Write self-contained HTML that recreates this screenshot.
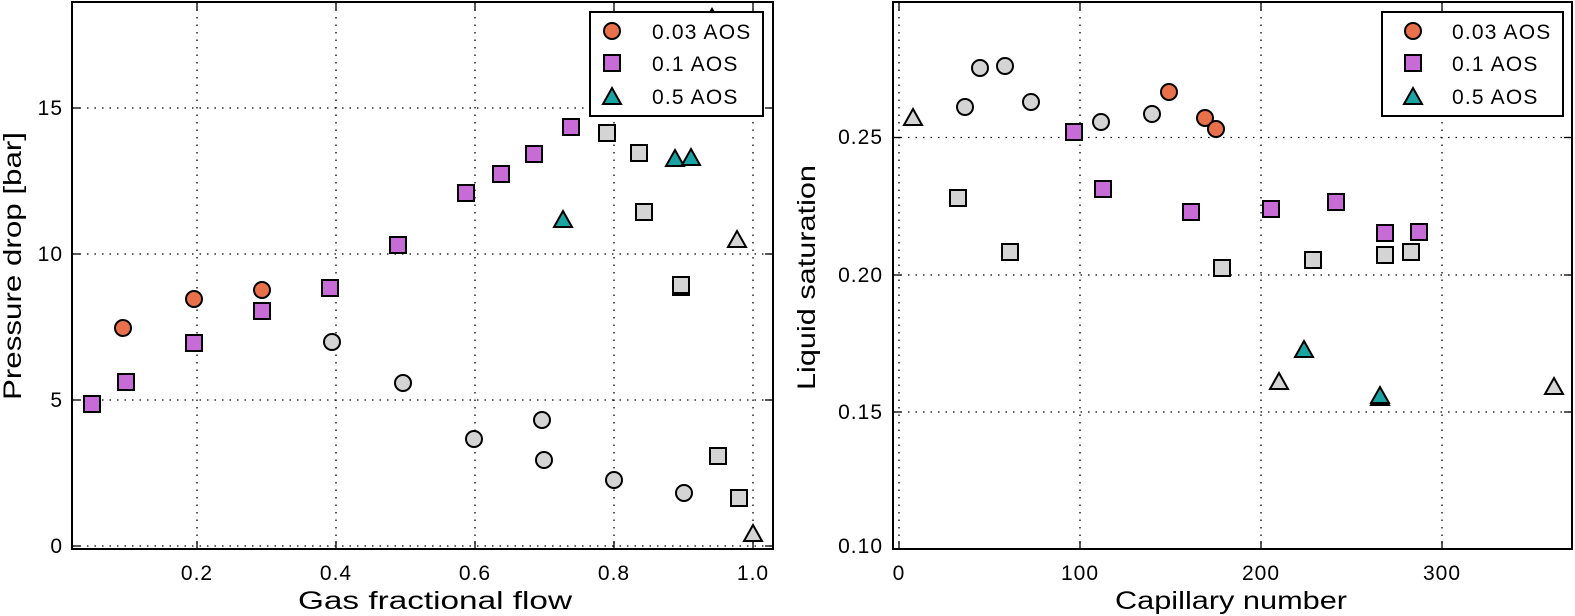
<!DOCTYPE html>
<html><head><meta charset="utf-8"><style>
html,body{margin:0;padding:0;background:#fff;}
svg{display:block;font-family:"Liberation Sans",sans-serif;}
.g{stroke:#000;stroke-width:1.3;stroke-dasharray:1.5,6;fill:none}
.t{font-size:21px;fill:#000;letter-spacing:1px}
.l{font-size:21px;fill:#000;letter-spacing:1.2px}
.a{font-size:25px;fill:#000}
.o{fill:#e8704a;stroke:#000;stroke-width:2}
.p{fill:#c76cd6;stroke:#000;stroke-width:2}
.c{fill:#1aa3a3;stroke:#000;stroke-width:2}
.y{fill:#d4d4d4;stroke:#000;stroke-width:2}
</style></head><body>
<svg width="1575" height="616" viewBox="0 0 1575 616">
<defs>
<circle id="ci" r="8"/>
<rect id="sq" x="-8" y="-8" width="16" height="16"/>
<polygon id="tr" points="0,-9 9,7 -9,7"/>
</defs>
<g>
<line class="g" x1="197" y1="2" x2="197" y2="549"/>
<line class="g" x1="336" y1="2" x2="336" y2="549"/>
<line class="g" x1="475" y1="2" x2="475" y2="549"/>
<line class="g" x1="614" y1="2" x2="614" y2="549"/>
<line class="g" x1="753" y1="2" x2="753" y2="549"/>
<line class="g" x1="72" y1="546" x2="773" y2="546"/>
<line class="g" x1="72" y1="400" x2="773" y2="400"/>
<line class="g" x1="72" y1="254" x2="773" y2="254"/>
<line class="g" x1="72" y1="108" x2="773" y2="108"/>
<g stroke="#000" stroke-width="1.3">
<line x1="197" y1="549" x2="197" y2="541"/><line x1="336" y1="549" x2="336" y2="541"/><line x1="475" y1="549" x2="475" y2="541"/><line x1="614" y1="549" x2="614" y2="541"/><line x1="753" y1="549" x2="753" y2="541"/>
<line x1="197" y1="2" x2="197" y2="10"/><line x1="336" y1="2" x2="336" y2="10"/><line x1="475" y1="2" x2="475" y2="10"/><line x1="614" y1="2" x2="614" y2="10"/><line x1="753" y1="2" x2="753" y2="10"/>
<line x1="72" y1="546" x2="80" y2="546"/><line x1="72" y1="400" x2="80" y2="400"/><line x1="72" y1="254" x2="80" y2="254"/><line x1="72" y1="108" x2="80" y2="108"/>
<line x1="773" y1="546" x2="765" y2="546"/><line x1="773" y1="400" x2="765" y2="400"/><line x1="773" y1="254" x2="765" y2="254"/><line x1="773" y1="108" x2="765" y2="108"/>
</g>
<g class="t" text-anchor="end">
<text x="63" y="553">0</text><text x="63" y="407">5</text><text x="63" y="261">10</text><text x="63" y="115">15</text>
</g>
<g class="t" text-anchor="middle">
<text x="197" y="580">0.2</text><text x="336" y="580">0.4</text><text x="475" y="580">0.6</text><text x="614" y="580">0.8</text><text x="753" y="580">1.0</text>
</g>
<text class="a" x="298" y="609" textLength="274" lengthAdjust="spacingAndGlyphs">Gas fractional flow</text>
<text class="a" x="0" y="0" textLength="268" lengthAdjust="spacingAndGlyphs" transform="translate(21,400) rotate(-90)">Pressure drop [bar]</text>
<use href="#ci" class="y" x="332" y="342"/><use href="#ci" class="y" x="403" y="383"/>
<use href="#ci" class="y" x="474" y="439"/><use href="#ci" class="y" x="542" y="420"/><use href="#ci" class="y" x="544" y="460"/><use href="#ci" class="y" x="614" y="480"/><use href="#ci" class="y" x="684" y="493"/>
<use href="#sq" class="y" x="607" y="133"/><use href="#sq" class="y" x="639" y="153"/><use href="#sq" class="y" x="644" y="212"/><use href="#sq" class="y" x="681" y="287"/><use href="#sq" class="y" x="681" y="285"/>
<use href="#sq" class="y" x="718" y="456"/><use href="#sq" class="y" x="739" y="498"/>
<use href="#tr" class="y" x="737" y="240"/><use href="#tr" class="y" x="753" y="534"/>
<use href="#ci" class="o" x="123" y="328"/><use href="#ci" class="o" x="194" y="299"/><use href="#ci" class="o" x="262" y="290"/>
<use href="#sq" class="p" x="92" y="404"/><use href="#sq" class="p" x="126" y="382"/><use href="#sq" class="p" x="194" y="343"/><use href="#sq" class="p" x="262" y="311"/><use href="#sq" class="p" x="330" y="288"/><use href="#sq" class="p" x="398" y="245"/>
<use href="#sq" class="p" x="466" y="193"/><use href="#sq" class="p" x="501" y="174"/><use href="#sq" class="p" x="534" y="154"/><use href="#sq" class="p" x="571" y="127"/>
<use href="#tr" class="c" x="563" y="220"/><use href="#tr" class="c" x="675" y="159"/><use href="#tr" class="c" x="691" y="158"/><use href="#tr" class="c" x="712" y="18"/>
<rect x="72" y="2" width="701" height="547" fill="none" stroke="#000" stroke-width="2"/>
<rect x="590" y="12" width="173" height="104" fill="#fff" stroke="#000" stroke-width="2"/>
<use href="#ci" class="o" x="612" y="31"/><use href="#sq" class="p" x="612" y="63"/><use href="#tr" class="c" x="612" y="97"/>
<g class="l"><text x="652" y="39">0.03 AOS</text><text x="652" y="71">0.1 AOS</text><text x="652" y="104">0.5 AOS</text></g>
</g>
<g>
<line class="g" x1="899" y1="2" x2="899" y2="549"/>
<line class="g" x1="1080" y1="2" x2="1080" y2="549"/>
<line class="g" x1="1261" y1="2" x2="1261" y2="549"/>
<line class="g" x1="1442" y1="2" x2="1442" y2="549"/>
<line class="g" x1="893" y1="137.5" x2="1572" y2="137.5"/>
<line class="g" x1="893" y1="275" x2="1572" y2="275"/>
<line class="g" x1="893" y1="412" x2="1572" y2="412"/>
<g stroke="#000" stroke-width="1.3">
<line x1="899" y1="549" x2="899" y2="541"/><line x1="1080" y1="549" x2="1080" y2="541"/><line x1="1261" y1="549" x2="1261" y2="541"/><line x1="1442" y1="549" x2="1442" y2="541"/>
<line x1="899" y1="2" x2="899" y2="10"/><line x1="1080" y1="2" x2="1080" y2="10"/><line x1="1261" y1="2" x2="1261" y2="10"/><line x1="1442" y1="2" x2="1442" y2="10"/>
<line x1="893" y1="137.5" x2="901" y2="137.5"/><line x1="893" y1="275" x2="901" y2="275"/><line x1="893" y1="412" x2="901" y2="412"/>
<line x1="1572" y1="137.5" x2="1564" y2="137.5"/><line x1="1572" y1="275" x2="1564" y2="275"/><line x1="1572" y1="412" x2="1564" y2="412"/>
</g>
<g class="t" text-anchor="end">
<text x="883" y="553">0.10</text><text x="883" y="419">0.15</text><text x="883" y="282">0.20</text><text x="883" y="144">0.25</text>
</g>
<g class="t" text-anchor="middle">
<text x="899" y="580">0</text><text x="1080" y="580">100</text><text x="1261" y="580">200</text><text x="1442" y="580">300</text>
</g>
<text class="a" x="1115" y="609" textLength="232" lengthAdjust="spacingAndGlyphs">Capillary number</text>
<text class="a" x="0" y="0" textLength="225" lengthAdjust="spacingAndGlyphs" transform="translate(815,390) rotate(-90)">Liquid saturation</text>
<use href="#tr" class="y" x="913" y="118"/>
<use href="#ci" class="y" x="965" y="107"/><use href="#ci" class="y" x="980" y="68"/><use href="#ci" class="y" x="1005" y="66"/><use href="#ci" class="y" x="1031" y="102"/><use href="#ci" class="y" x="1101" y="122"/><use href="#ci" class="y" x="1152" y="114"/>
<use href="#sq" class="y" x="958" y="198"/><use href="#sq" class="y" x="1010" y="252"/><use href="#sq" class="y" x="1222" y="268"/><use href="#sq" class="y" x="1313" y="260"/><use href="#sq" class="y" x="1385" y="255"/><use href="#sq" class="y" x="1411" y="252"/>
<use href="#tr" class="y" x="1279" y="382"/><use href="#tr" class="y" x="1554" y="387"/>
<use href="#ci" class="o" x="1169" y="92"/><use href="#ci" class="o" x="1205" y="118"/><use href="#ci" class="o" x="1216" y="129"/>
<use href="#sq" class="p" x="1074" y="132"/><use href="#sq" class="p" x="1103" y="189"/><use href="#sq" class="p" x="1191" y="212"/><use href="#sq" class="p" x="1271" y="209"/><use href="#sq" class="p" x="1336" y="202"/><use href="#sq" class="p" x="1385" y="233"/><use href="#sq" class="p" x="1419" y="232"/>
<use href="#tr" class="c" x="1304" y="350"/><use href="#tr" class="c" x="1380" y="398"/><use href="#tr" class="c" x="1380" y="396"/>
<rect x="893" y="2" width="679" height="547" fill="none" stroke="#000" stroke-width="2"/>
<rect x="1382" y="12" width="181" height="104" fill="#fff" stroke="#000" stroke-width="2"/>
<use href="#ci" class="o" x="1413" y="31"/><use href="#sq" class="p" x="1413" y="63"/><use href="#tr" class="c" x="1413" y="97"/>
<g class="l"><text x="1452" y="39">0.03 AOS</text><text x="1452" y="71">0.1 AOS</text><text x="1452" y="104">0.5 AOS</text></g>
</g>
</svg>
</body></html>
